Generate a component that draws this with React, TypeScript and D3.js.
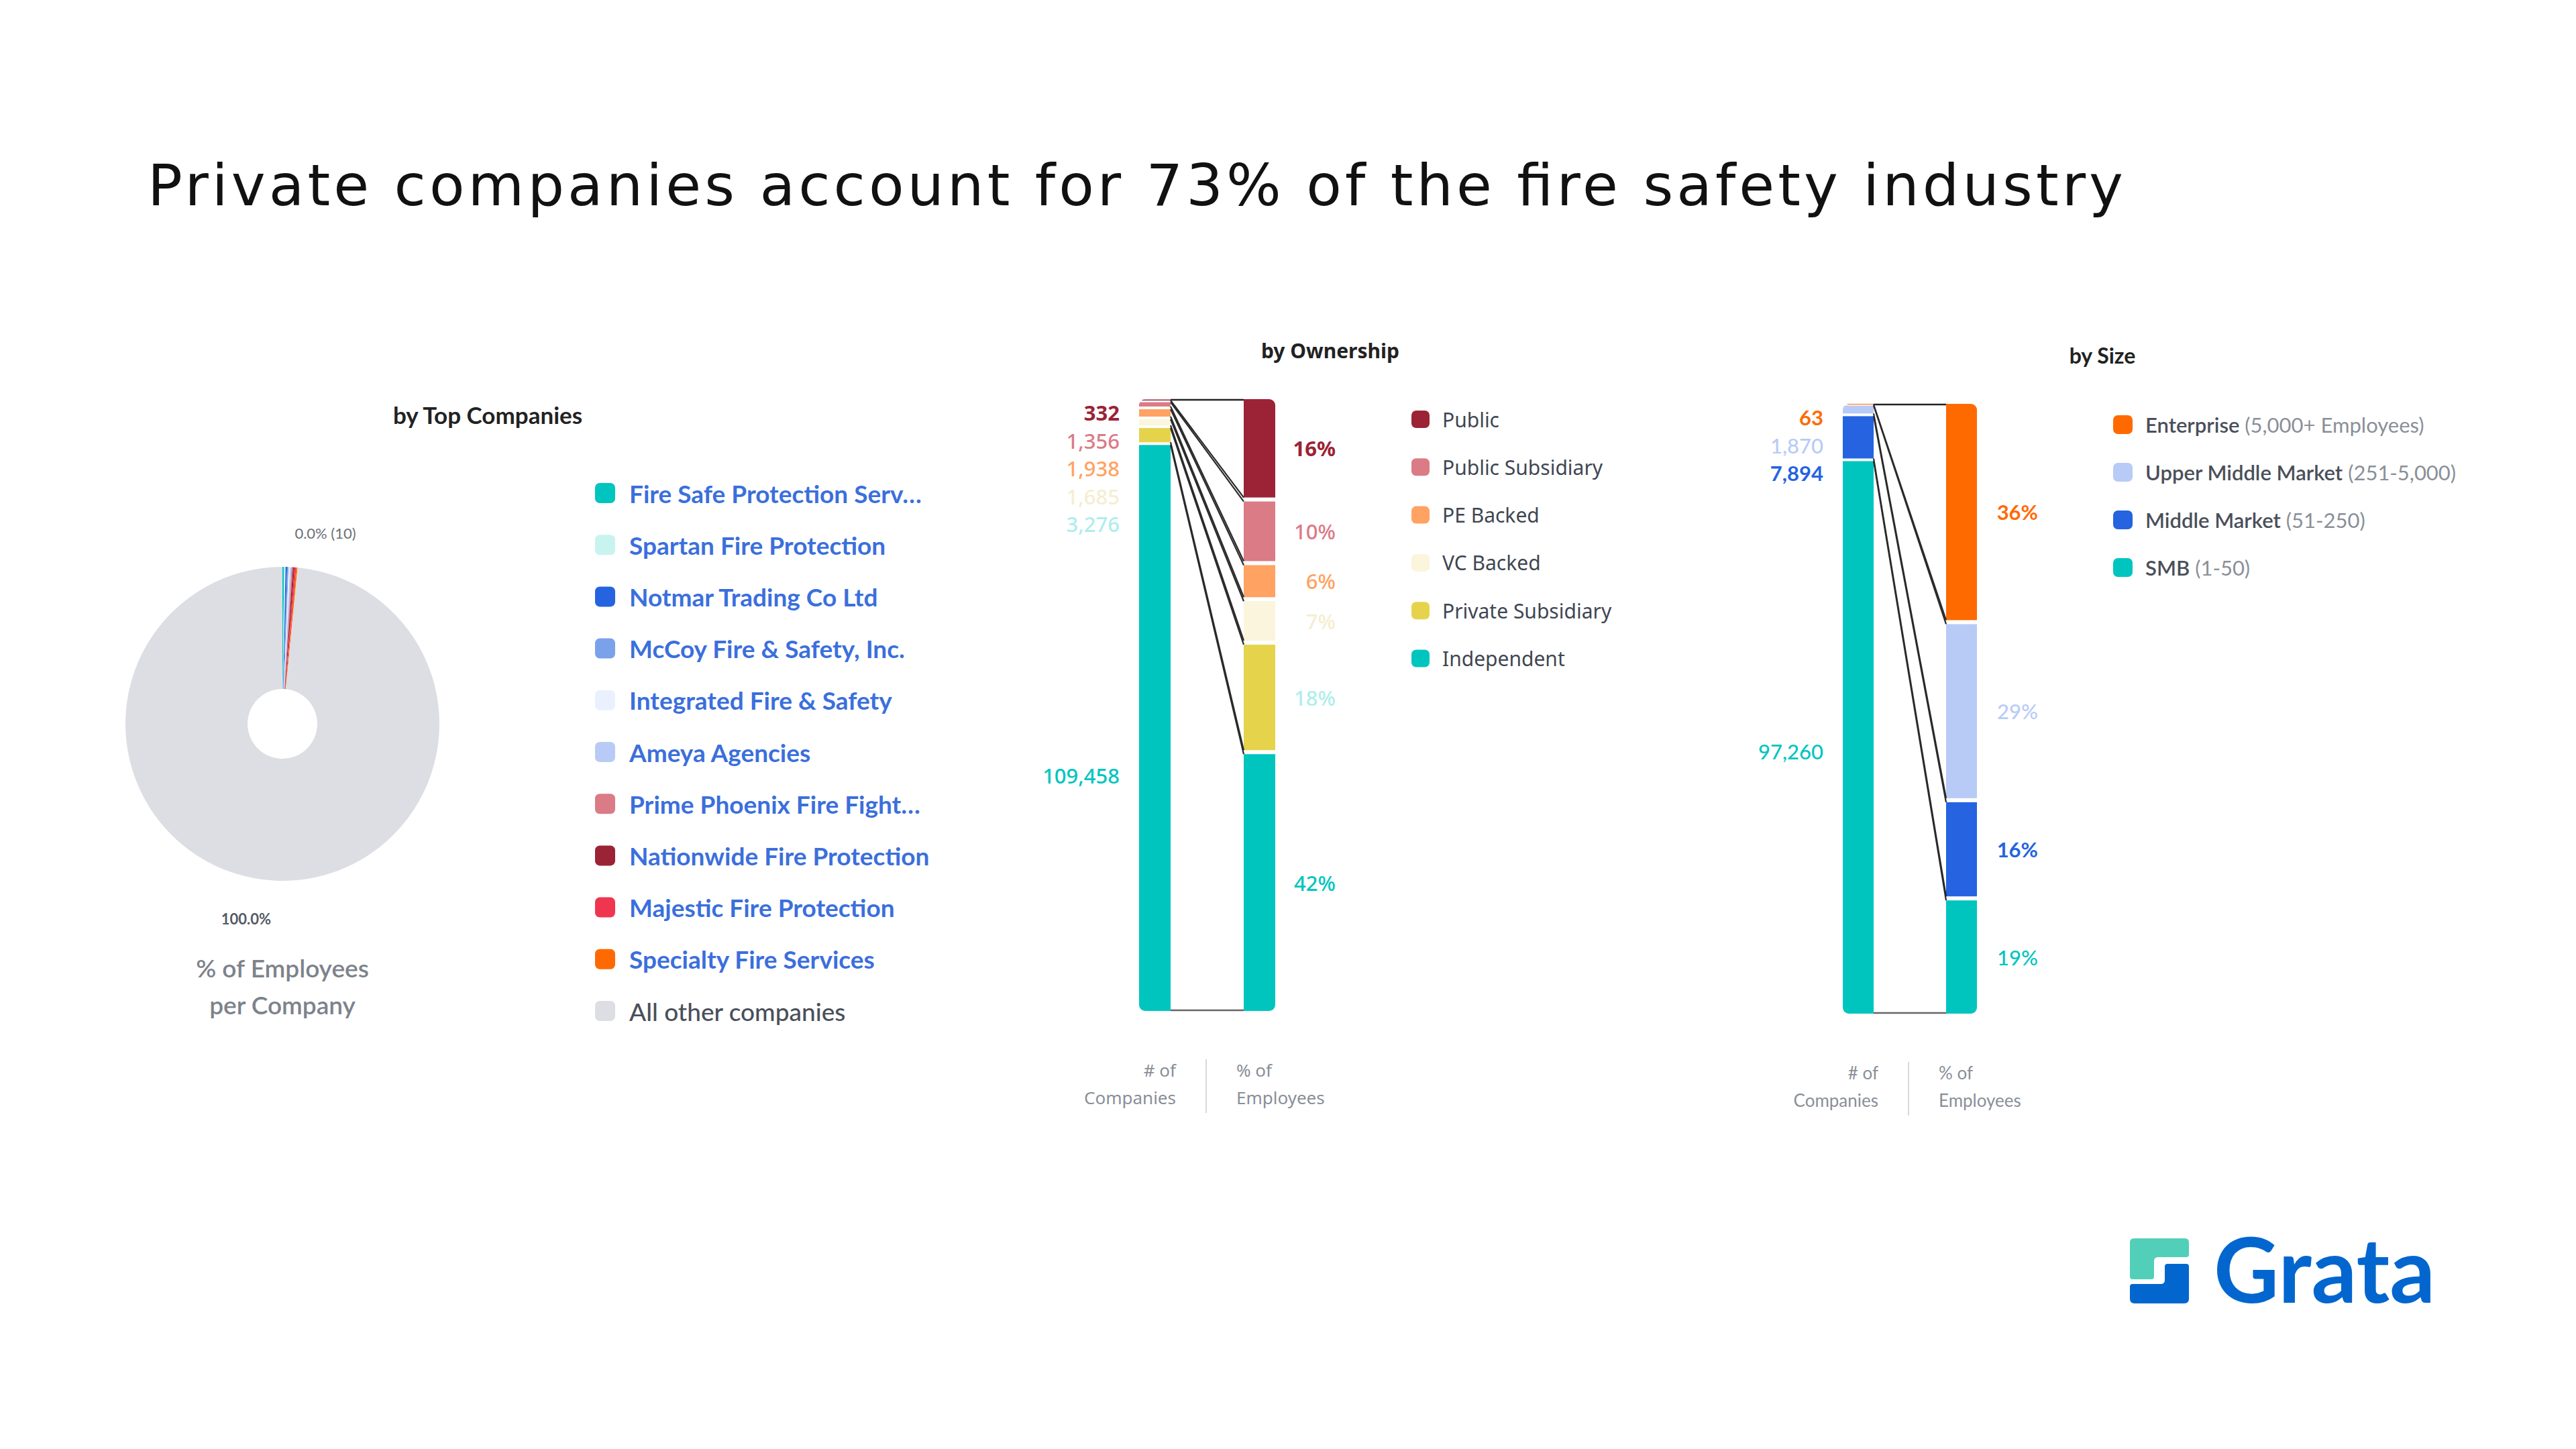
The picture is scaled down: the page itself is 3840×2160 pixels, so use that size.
import * as d3 from 'd3'

const W = 3840
const H = 2160

// by Top Companies (% of employees)
const companyNames = [
  'Fire Safe Protection Serv…',
  'Spartan Fire Protection',
  'Notmar Trading Co Ltd',
  'McCoy Fire & Safety, Inc.',
  'Integrated Fire & Safety',
  'Ameya Agencies',
  'Prime Phoenix Fire Fight…',
  'Nationwide Fire Protection',
  'Majestic Fire Protection',
  'Specialty Fire Services',
  'All other companies',
]
const companyShares = [0.17, 0.15, 0.16, 0.15, 0.14, 0.15, 0.15, 0.16, 0.17, 0.14, 98.46]
const companyColors = [
  '#00c5bf', '#c9f3ef', '#2563e0', '#7ba1ea', '#eaf0fd', '#b8cbf6',
  '#db7b86', '#9b2335', '#f0364f', '#ff6a00', '#dcdee4',
]

// by Ownership
const ownershipNames = ['Public', 'Public Subsidiary', 'PE Backed', 'VC Backed', 'Private Subsidiary', 'Independent']
const ownershipCounts = [332, 1356, 1938, 1685, 3276, 109458]
const ownershipEmpPct = [16.4, 10.4, 5.9, 7.1, 17.9, 42.3]
const ownershipColors = ['#9b2335', '#db7b86', '#ffa262', '#faf5dc', '#e6d34c', '#00c5bf']
const ownershipLabelColors = ['#9b2335', '#db7b86', '#ffa262', '#f5eed0', '#aeeeec', '#00c5bf']

// by Size
const sizeNames = ['Enterprise', 'Upper Middle Market', 'Middle Market', 'SMB']
const sizeRanges = ['(5,000+ Employees)', '(251-5,000)', '(51-250)', '(1-50)']
const sizeCounts = [63, 1870, 7894, 97260]
const sizeEmpPct = [35.8, 29.2, 16.1, 18.9]
const sizeColors = ['#ff6a00', '#b8cbf6', '#2563e0', '#00c5bf']
const sizeLabelColors = ['#ff6a00', '#b8cbf6', '#2563e0', '#00c5bf']

const fmtCount = d3.format(',')
const fmtPct = (v: number) => d3.format('.0f')(v) + '%'

// rect with only the outer corners rounded
function sideRounded(x: number, y: number, w: number, h: number, r: number, side: 'left' | 'right') {
  const p = d3.path()
  if (side === 'left') {
    p.moveTo(x + r, y)
    p.lineTo(x + w, y)
    p.lineTo(x + w, y + h)
    p.lineTo(x + r, y + h)
    p.arcTo(x, y + h, x, y + h - r, r)
    p.lineTo(x, y + r)
    p.arcTo(x, y, x + r, y, r)
  } else {
    p.moveTo(x, y)
    p.lineTo(x + w - r, y)
    p.arcTo(x + w, y, x + w, y + r, r)
    p.lineTo(x + w, y + h - r)
    p.arcTo(x + w, y + h, x + w - r, y + h, r)
    p.lineTo(x, y + h)
  }
  p.closePath()
  return p.toString()
}

interface Seg { y0: number; y1: number; v: number; i: number }

function segments(values: number[], top: number, bottom: number, gap: number): Seg[] {
  const y = d3.scaleLinear().domain([0, d3.sum(values)]).range([top, bottom])
  const cum = [0, ...d3.cumsum(values)]
  const n = values.length
  return values.map((v, i) => {
    let y0 = y(cum[i]) + (i > 0 ? gap / 2 : 0)
    let y1 = y(cum[i + 1]) - (i < n - 1 ? gap / 2 : 0)
    if (y1 - y0 < 1.5) {
      const m = (y(cum[i]) + y(cum[i + 1])) / 2
      y0 = m - 0.75
      y1 = m + 0.75
    }
    return { y0, y1, v, i }
  })
}

interface PanelProps {
  id: string
  counts: number[]
  pcts: number[]
  colors: string[]
  labelColors: string[]
  leftX: number
  rightX: number
  barW: number
  top: number
  bottom: number
  countX: number
  pctX: number
  font: string
  fontSize: number
  weights: number[]
}

function StackPanel(props: PanelProps) {
  const { id, counts, pcts, colors, labelColors, leftX, rightX, barW, top, bottom, countX, pctX, font, fontSize, weights } = props
  const left = segments(counts, top, bottom, 4)
  const right = segments(pcts, top, bottom, 6)
  const n = counts.length
  const lx = leftX + barW
  const stackY = (i: number) => top + 20 + i * 41.5
  return (
    <g>
      <defs>
        <clipPath id={id + '-l'}>
          <path d={sideRounded(leftX, top, barW, bottom - top, 9, 'left')} />
        </clipPath>
        <clipPath id={id + '-r'}>
          <path d={sideRounded(rightX, top, barW, bottom - top, 9, 'right')} />
        </clipPath>
      </defs>
      <g clipPath={`url(#${id}-l)`}>
        {left.map(s => (
          <rect key={s.i} x={leftX} y={s.y0} width={barW} height={s.y1 - s.y0} fill={colors[s.i]} />
        ))}
      </g>
      <g clipPath={`url(#${id}-r)`}>
        {right.map(s => (
          <rect key={s.i} x={rightX} y={s.y0} width={barW} height={s.y1 - s.y0} fill={colors[s.i]} />
        ))}
      </g>
      {/* connectors */}
      <line x1={lx} x2={rightX} y1={top + 1} y2={top + 1} stroke="#222" strokeWidth={2.5} />
      <line x1={lx} x2={rightX} y1={bottom - 1} y2={bottom - 1} stroke="#666" strokeWidth={2.5} />
      {left.slice(0, n - 1).map((s, i) => (
        <g key={i}>
          <line x1={lx} y1={s.y1} x2={rightX} y2={right[i].y1} stroke="#2a2a2a" strokeWidth={2.2} />
          <line x1={lx} y1={left[i + 1].y0} x2={rightX} y2={right[i + 1].y0} stroke="#2a2a2a" strokeWidth={2.2} />
        </g>
      ))}
      {/* count labels: small ones stacked at the top, the big one below them */}
      {counts.map((c, i) => {
        const y = i < n - 1 ? stackY(i) : (stackY(n - 2) + bottom) / 2 + 12
        return (
          <text key={i} x={countX} y={y} textAnchor="end" dominantBaseline="central"
            fontFamily={font} fontSize={fontSize} fontWeight={weights[i]} fill={labelColors[i]}>
            {fmtCount(c)}
          </text>
        )
      })}
      {pcts.map((p, i) => (
        <text key={i} x={pctX} y={(right[i].y0 + right[i].y1) / 2} textAnchor="end" dominantBaseline="central"
          fontFamily={font} fontSize={fontSize} fontWeight={weights[i]} fill={labelColors[i]}>
          {fmtPct(p)}
        </text>
      ))}
    </g>
  )
}

function AxisNote({ x, y, font }: { x: number; y: number; font: string }) {
  const style = { fontFamily: font, fontSize: 26, fill: '#8a8f98' }
  return (
    <g>
      <text x={x - 45} y={y} textAnchor="end" {...style}>
        <tspan x={x - 45} dy={0}># of</tspan>
        <tspan x={x - 45} dy={41}>Companies</tspan>
      </text>
      <line x1={x} x2={x} y1={y - 26} y2={y + 54} stroke="#d6d9de" strokeWidth={2} />
      <text x={x + 45} y={y} textAnchor="start" {...style}>
        <tspan x={x + 45} dy={0}>% of</tspan>
        <tspan x={x + 45} dy={41}>Employees</tspan>
      </text>
    </g>
  )
}

function Logo() {
  return (
    <g>
      <path d="M3181,1846 H3257 Q3263,1846 3263,1852 V1870 Q3263,1874 3259,1874 H3217 Q3211,1874 3211,1880 V1903 Q3211,1907 3207,1907 H3179 Q3175,1907 3175,1903 V1852 Q3175,1846 3181,1846 Z" fill="#52cfb9" />
      <path d="M3231,1884 H3259 Q3263,1884 3263,1888 V1936 Q3263,1943 3256,1943 H3182 Q3175,1943 3175,1936 V1918 Q3175,1914 3179,1914 H3221 Q3227,1914 3227,1908 V1888 Q3227,1884 3231,1884 Z" fill="#0366cf" />
      <text x={3300} y={1942} fontFamily="Lato" fontWeight={700} fontSize={134} fill="#0366cf">Grata</text>
    </g>
  )
}

export default function App() {
  const pie = d3.pie<number>().sort(null).value(d => d)(companyShares)
  const arc = d3.arc<d3.PieArcDatum<number>>().innerRadius(52).outerRadius(234)
  const pieFont = 'Lato'
  const ownFont = 'Noto Sans'

  return (
    <svg width={W} height={H} style={{ position: 'absolute', left: 0, top: 0, background: '#fff' }}>
      <rect width={W} height={H} fill="#fff" />
      <text x={220} y={306} fontFamily="DejaVu Sans" fontSize={86} fill="#111"
        textLength={2945} lengthAdjust="spacing">
        Private companies account for 73% of the fire safety industry
      </text>

      {/* by Top Companies */}
      <text x={727} y={632} textAnchor="middle" fontFamily={pieFont} fontWeight={700} fontSize={35} fill="#222">by Top Companies</text>
      <g transform="translate(421,1079)">
        {pie.map((d, i) => (
          <path key={i} d={arc(d) || ''} fill={companyColors[i]} />
        ))}
      </g>
      <text x={485} y={803} textAnchor="middle" fontFamily={pieFont} fontSize={22} fill="#6b6f78">0.0% (10)</text>
      <text x={367} y={1378} textAnchor="middle" fontFamily={pieFont} fontWeight={700} fontSize={22} fill="#555a63">100.0%</text>
      <text x={421} y={1457} textAnchor="middle" fontFamily={pieFont} fontWeight={600} fontSize={37} fill="#7d828b">% of Employees</text>
      <text x={421} y={1512} textAnchor="middle" fontFamily={pieFont} fontWeight={600} fontSize={37} fill="#7d828b">per Company</text>
      {companyNames.map((name, i) => {
        const y = 735 + i * 77.2
        const other = i === companyNames.length - 1
        return (
          <g key={name}>
            <rect x={887} y={y - 15} width={30} height={30} rx={7} fill={companyColors[i]} />
            <text x={938} y={y} dominantBaseline="central" fontFamily={pieFont} fontWeight={other ? 500 : 700}
              fontSize={37} fill={other ? '#4a4f5a' : '#3b6fdc'}>{name}</text>
          </g>
        )
      })}

      {/* by Ownership */}
      <text x={1983} y={534} textAnchor="middle" fontFamily={ownFont} fontWeight={700} fontSize={30} fill="#222">by Ownership</text>
      <StackPanel id="own" counts={ownershipCounts} pcts={ownershipEmpPct} colors={ownershipColors}
        labelColors={ownershipLabelColors} leftX={1698} rightX={1854} barW={47} top={595} bottom={1507}
        countX={1669} pctX={1991} font={ownFont} fontSize={31} weights={[700, 500, 500, 500, 500, 500]} />
      {ownershipNames.map((name, i) => {
        const y = 625 + i * 71.3
        return (
          <g key={name}>
            <rect x={2104} y={y - 13} width={27} height={26} rx={7} fill={ownershipColors[i]} />
            <text x={2150} y={y} dominantBaseline="central" fontFamily={ownFont} fontSize={30} fill="#3f4652">{name}</text>
          </g>
        )
      })}
      <AxisNote x={1798} y={1605} font={ownFont} />

      {/* by Size */}
      <text x={3134} y={542} textAnchor="middle" fontFamily={pieFont} fontWeight={700} fontSize={32} fill="#222">by Size</text>
      <StackPanel id="size" counts={sizeCounts} pcts={sizeEmpPct} colors={sizeColors}
        labelColors={sizeLabelColors} leftX={2747} rightX={2901} barW={46} top={602} bottom={1511}
        countX={2718} pctX={3038} font={pieFont} fontSize={31} weights={[700, 500, 700, 500]} />
      {sizeNames.map((name, i) => {
        const y = 633 + i * 71
        return (
          <g key={name}>
            <rect x={3150} y={y - 14} width={29} height={28} rx={7} fill={sizeColors[i]} />
            <text x={3198} y={y} dominantBaseline="central" fontFamily={pieFont} fontSize={31} fill="#4a4f5a">
              <tspan fontWeight={600}>{name}</tspan>
              <tspan fill="#8a8f98"> {sizeRanges[i]}</tspan>
            </text>
          </g>
        )
      })}
      <AxisNote x={2845} y={1609} font={pieFont} />

      <Logo />
    </svg>
  )
}
